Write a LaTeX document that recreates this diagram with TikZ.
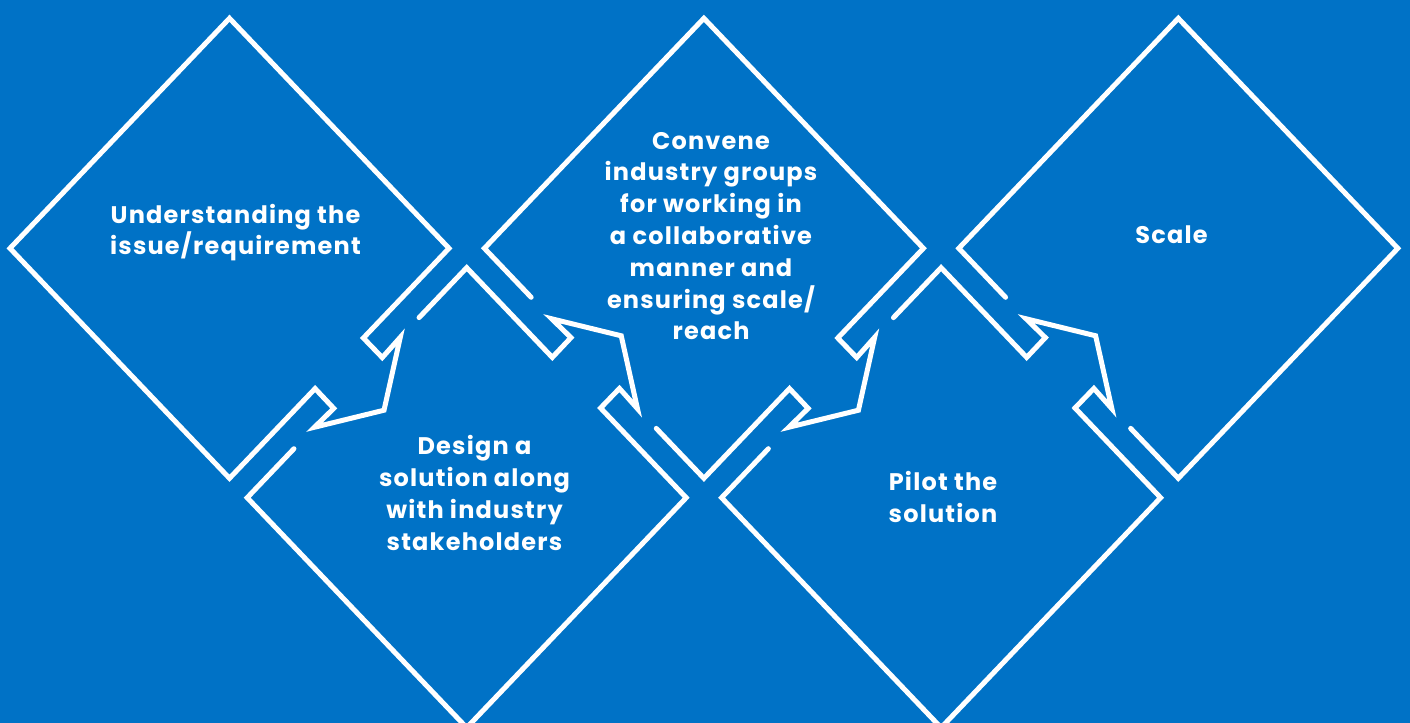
\documentclass[tikz,border=0pt]{standalone}
\usepackage{fontspec}
\setmainfont{Poppins}[LetterSpace=5]
\definecolor{bgblue}{RGB}{0,114,198}
\begin{document}
\begin{tikzpicture}[x=0.5pt,y=-0.5pt,
  outline/.style={draw=white,line width=2.5pt,line join=miter,line cap=round},
  steptext/.style={text=white,font=\fontsize{12}{15.9}\selectfont\bfseries,align=center,inner sep=0pt},
  cell/.style={xscale=219.5,yscale=230}]
\fill[bgblue] (0,0) rectangle (1410,723);
\useasboundingbox (0,0) rectangle (1410,723);
\clip (0,0) rectangle (1410,723);

% upper diamonds: arrow notch on the lower-right edge, gap on the lower-left edge
\begin{scope}[shift={(229.5,248.3)},cell]
  \draw[outline] (0,-1) -- (1,0) -- (0.61,0.39) -- (0.696,0.475) -- (0.778,0.387)
    -- (0.704,0.704) -- (0.387,0.778) -- (0.475,0.696) -- (0.39,0.61)
    -- (0,1) -- (-1,0) -- cycle;
\end{scope}
\begin{scope}[shift={(703.9,248.3)},cell]
  \draw[outline] (-0.217,0.783) -- (0,1) -- (0.39,0.61) -- (0.475,0.696)
    -- (0.387,0.778) -- (0.704,0.704) -- (0.778,0.387) -- (0.696,0.475)
    -- (0.61,0.39) -- (1,0) -- (0,-1) -- (-1,0) -- (-0.787,0.213);
\end{scope}
\begin{scope}[shift={(1178.3,248.3)},cell]
  \draw[outline] (-0.217,0.783) -- (0,1) -- (1,0) -- (0,-1) -- (-1,0) -- (-0.787,0.213);
\end{scope}

% lower diamonds: gap on the upper-left edge, arrow notch on the upper-right edge
\foreach \cx in {466.7,941.1}{
\begin{scope}[shift={(\cx,497.7)},cell]
  \draw[outline] (-0.217,-0.783) -- (0,-1) -- (0.39,-0.61) -- (0.475,-0.696)
    -- (0.387,-0.778) -- (0.704,-0.704) -- (0.778,-0.387) -- (0.696,-0.475)
    -- (0.61,-0.39) -- (1,0) -- (0,1) -- (-1,0) -- (-0.787,-0.213);
\end{scope}
}

\node[steptext] (t1) at (235.5,232.5) {Understanding the\\issue/requirement};
\node[steptext] (t2) at (474.5,493) {Design a\\solution along\\with industry\\stakeholders};
\node[steptext] (t3) at (711,236) {Convene\\industry groups\\for working in\\a collaborative\\manner and\\ensuring scale/\\reach};
\node[steptext] (t4) at (943,497) {Pilot the\\solution};
\node[steptext] (t5) at (1171.5,234.5) {Scale};
\end{tikzpicture}
\end{document}
